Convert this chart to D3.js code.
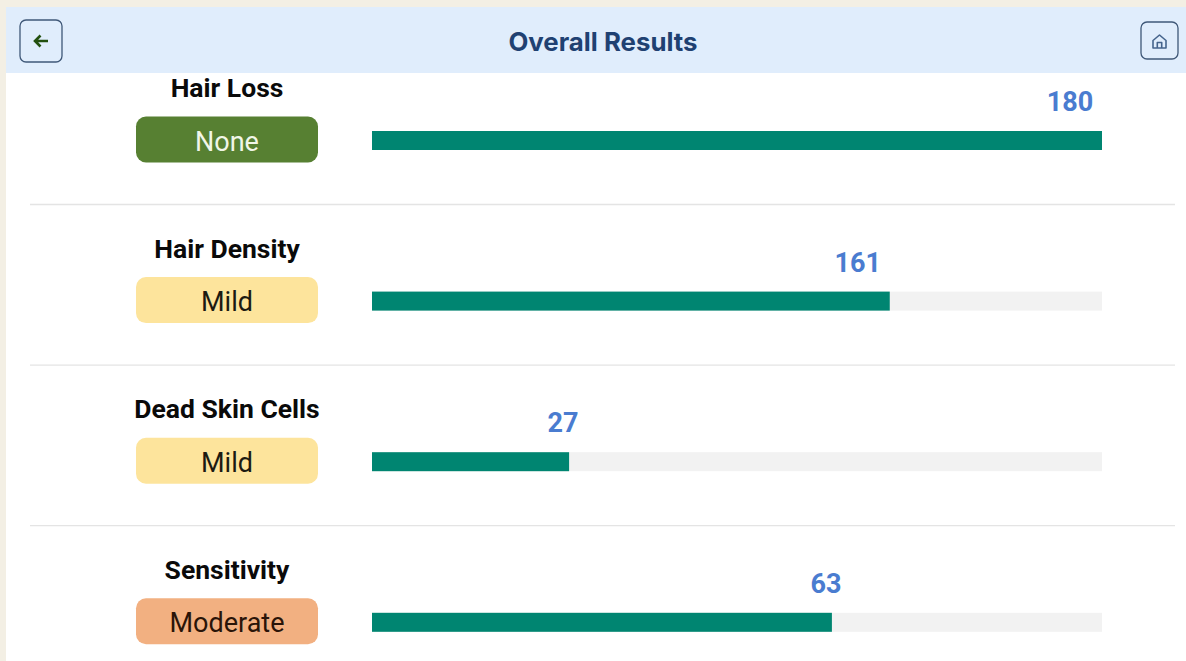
<!DOCTYPE html>
<html>
<head>
<meta charset="utf-8">
<title>Overall Results</title>
<script src="https://cdn.jsdelivr.net/npm/d3@7/dist/d3.min.js"></script>
<style>
  html, body { margin: 0; padding: 0; background: #fff; overflow: hidden; }
  svg { display: block; }
  text { font-family: Roboto, sans-serif; }
</style>
</head>
<body>
<div id="chart"></div>
<script>
const WIDTH = 1186;
const HEIGHT = 661;
const HEADER_TOP = 7;
const HEADER_BOTTOM = 73;
const ROW_STEP = 160.6; // Distance between rows
const FIRST_ROW = 140.5; // Bar centre of the first row
const BAR_HEIGHT = 19;

const categories = ['Hair Loss', 'Hair Density', 'Dead Skin Cells', 'Sensitivity'];
const values = [180, 161, 27, 63];
const maxima = [180, 227, 100, 100]; // Each row has its own full scale
const grades = ['None', 'Mild', 'Mild', 'Moderate'];
const gradeNames = ['None', 'Mild', 'Moderate'];
const gradeFills = ['#578032', '#fde49c', '#f2b081'];
const gradeInks = ['#f1f6e8', '#1c1a12', '#2a1408'];

const gradeFill = d3.scaleOrdinal().domain(gradeNames).range(gradeFills);
const gradeInk = d3.scaleOrdinal().domain(gradeNames).range(gradeInks);

const svg = d3.select('#chart')
  .append('svg')
  .attr('width', WIDTH)
  .attr('height', HEIGHT);

// Cream page edge behind the card
svg.append('rect').attr('width', WIDTH).attr('height', HEIGHT).attr('fill', '#f3efe4');
svg.append('rect').attr('x', 6).attr('y', HEADER_TOP).attr('width', WIDTH - 6).attr('height', HEIGHT).attr('fill', '#fff');

// Header
svg.append('rect')
  .attr('x', 6).attr('y', HEADER_TOP)
  .attr('width', WIDTH - 6).attr('height', HEADER_BOTTOM - HEADER_TOP)
  .attr('fill', '#e0edfc');

svg.append('text')
  .attr('x', 603).attr('y', 50.5)
  .attr('text-anchor', 'middle')
  .style('font-family', 'Inter, sans-serif')
  .style('font-size', '25.8px')
  .style('font-weight', 700)
  .attr('fill', '#1f4172')
  .text('Overall Results');

// Back button
svg.append('rect')
  .attr('x', 20).attr('y', 20).attr('width', 42).attr('height', 42).attr('rx', 6)
  .attr('fill', 'none').attr('stroke', '#3f5878').attr('stroke-width', 1.3);
svg.append('path')
  .attr('d', 'M48 41H35M40.5 35.5L35 41L40.5 46.5')
  .attr('fill', 'none').attr('stroke', '#22500f').attr('stroke-width', 2.6);

// Home button
svg.append('rect')
  .attr('x', 1141).attr('y', 22).attr('width', 37).attr('height', 37).attr('rx', 6)
  .attr('fill', 'none').attr('stroke', '#3f5878').attr('stroke-width', 1.3);
svg.append('path')
  .attr('d', 'M1153 48V40.5L1159.5 35L1166 40.5V48ZM1157.3 48V42.5H1161.7V48')
  .attr('fill', 'none').attr('stroke', '#45648c').attr('stroke-width', 1.6).attr('stroke-linejoin', 'round');

const rows = svg.selectAll('.row')
  .data(categories)
  .enter()
  .append('g')
  .attr('class', 'row')
  .attr('transform', (d, i) => `translate(0, ${FIRST_ROW + i * ROW_STEP})`);

// Separator under every row but the last
rows.filter((d, i) => i < categories.length - 1)
  .append('line')
  .attr('x1', 30).attr('x2', 1175)
  .attr('y1', 64).attr('y2', 64)
  .attr('stroke', '#e4e4e4').attr('stroke-width', 1.3);

rows.append('text')
  .attr('x', 227).attr('y', -43.6)
  .attr('text-anchor', 'middle')
  .style('font-size', '26.5px')
  .style('font-weight', 700)
  .attr('fill', '#0a0a0a')
  .text(d => d);

rows.append('rect')
  .attr('x', 136).attr('y', -24)
  .attr('width', 182).attr('height', 46).attr('rx', 10)
  .attr('fill', (d, i) => gradeFill(grades[i]));

rows.append('text')
  .attr('x', 227).attr('y', 10)
  .attr('text-anchor', 'middle')
  .style('font-size', '27px')
  .attr('fill', (d, i) => gradeInk(grades[i]))
  .text((d, i) => grades[i]);

// Bars, each through the scale of its own row
const rowScale = i => d3.scaleLinear().domain([0, maxima[i]]).range([372, 1102]);

rows.append('rect')
  .attr('x', 372).attr('y', -BAR_HEIGHT / 2)
  .attr('width', 730).attr('height', BAR_HEIGHT)
  .attr('fill', '#f2f2f2');

rows.append('rect')
  .attr('x', 372).attr('y', -BAR_HEIGHT / 2)
  .attr('width', (d, i) => rowScale(i)(values[i]) - 372).attr('height', BAR_HEIGHT)
  .attr('fill', '#008571');

rows.append('text')
  .attr('x', (d, i) => rowScale(i)(values[i]) - (values[i] >= 100 ? 32 : 6))
  .attr('y', -29.6)
  .attr('text-anchor', 'middle')
  .style('font-size', '27px')
  .style('font-weight', 700)
  .attr('fill', '#4a7cd0')
  .text((d, i) => values[i]);
</script>
</body>
</html>
